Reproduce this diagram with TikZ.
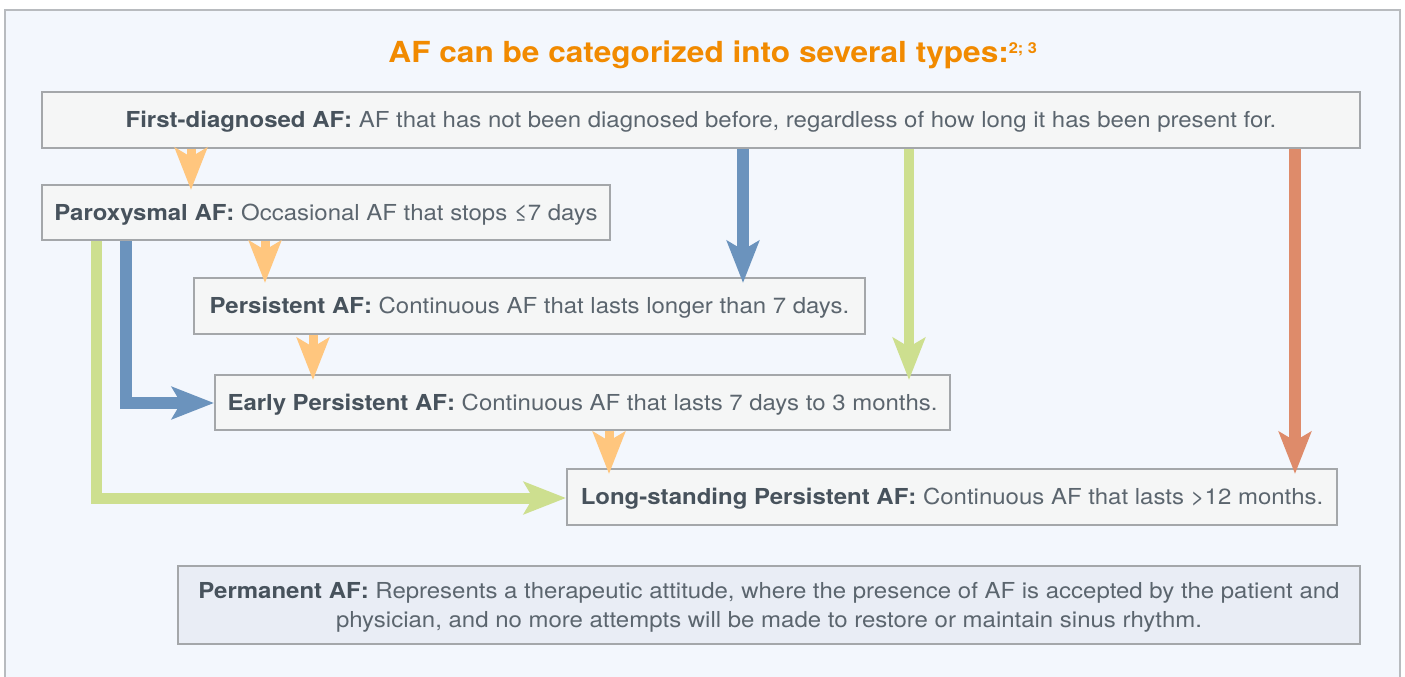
\documentclass[tikz,border=0pt]{standalone}
\usepackage{fontspec}
\setmainfont{TeX Gyre Heros}[FakeStretch=1.09]
\usetikzlibrary{arrows.meta,positioning,calc}
\definecolor{framebg}{HTML}{F3F7FD}
\definecolor{frameline}{HTML}{B8BBBF}
\definecolor{boxbg}{HTML}{F5F6F6}
\definecolor{boxline}{HTML}{A4A7AA}
\definecolor{permbg}{HTML}{E9EDF5}
\definecolor{txtbold}{HTML}{47525C}
\definecolor{txtreg}{HTML}{5B656E}
\definecolor{titleor}{HTML}{F18A00}
\definecolor{arrorange}{HTML}{FFC67E}
\definecolor{arrblue}{HTML}{6B93BD}
\definecolor{arrgreen}{HTML}{CDDF8F}
\definecolor{arrred}{HTML}{DE8B6A}
\newcommand{\lbl}[1]{{\bfseries\color{txtbold}#1}}
\begin{document}
\begin{tikzpicture}[x=1pt,y=-1pt,
  typebox/.style={draw=boxline,fill=boxbg,line width=2pt,inner sep=0pt,
    rectangle,align=center,text=txtreg,text depth=1pt,font=\fontsize{22}{29}\selectfont},
  flowarrow/.style={line width=#1,line join=miter,
    -{Stealth[length=42pt,width=32pt,inset=9pt]},shorten >=-6pt},
  flowarrow/.default=10pt
]
\useasboundingbox (0,0) rectangle (1405,677);
\fill[white] (0,0) rectangle (1405,677);
\draw[draw=frameline,fill=framebg,line width=1.2pt] (5,10) rectangle (1400,700);

\node[font=\fontsize{29}{34}\bfseries\selectfont,text=titleor,anchor=center] (title) at (713,55)
  {AF can be categorized into several types:\textsuperscript{\fontsize{15}{15}\selectfont 2; 3}};

\node[typebox,minimum width=1318pt,minimum height=56pt] (first) at (701,120)
  {\lbl{First-diagnosed AF:} AF that has not been diagnosed before, regardless of how long it has been present for.};
\node[typebox,minimum width=568pt,minimum height=55pt] (parox) at (326,212.5)
  {\lbl{Paroxysmal AF:} Occasional AF that stops ≤7 days};
\node[typebox,minimum width=671pt,minimum height=56pt] (pers) at (529.5,306)
  {\lbl{Persistent AF:} Continuous AF that lasts longer than 7 days.};
\node[typebox,minimum width=735pt,minimum height=55pt] (early) at (582.5,402.5)
  {\lbl{Early Persistent AF:} Continuous AF that lasts 7 days to 3 months.};
\node[typebox,minimum width=770pt,minimum height=56pt] (long) at (952,497)
  {\lbl{Long-standing Persistent AF:} Continuous AF that lasts >12 months.};
\node[typebox,fill=permbg,minimum width=1182pt,minimum height=78pt] (perm) at (769,605)
  {\lbl{Permanent AF:} Represents a therapeutic attitude, where the presence of AF is accepted by the patient and\\
   physician, and no more attempts will be made to restore or maintain sinus rhythm.};

% orange short arrows
\draw[flowarrow=9pt,draw=arrorange] (191,0 |- first.south) -- (191,0 |- parox.north);
\draw[flowarrow=9pt,draw=arrorange] (265,0 |- parox.south) -- (265,0 |- pers.north);
\draw[flowarrow=9pt,draw=arrorange] (313,0 |- pers.south) -- (313,0 |- early.north);
\draw[flowarrow=9pt,draw=arrorange] (609,0 |- early.south) -- (609,0 |- long.north);
% blue
\draw[flowarrow=12pt,draw=arrblue] (743,0 |- first.south) -- (743,0 |- pers.north);
\draw[flowarrow=12pt,draw=arrblue,shorten >=0pt] (126,0 |- parox.south) -- (126,403) -- (early.west |- 0,403);
% green
\draw[flowarrow=10pt,draw=arrgreen] (909,0 |- first.south) -- (909,0 |- early.north);
\draw[flowarrow=11pt,draw=arrgreen,shorten >=0pt] (96,0 |- parox.south) -- (96,498) -- (long.west |- 0,498);
% red
\draw[flowarrow=12pt,draw=arrred] (1295,0 |- first.south) -- (1295,0 |- long.north);
\end{tikzpicture}
\end{document}
